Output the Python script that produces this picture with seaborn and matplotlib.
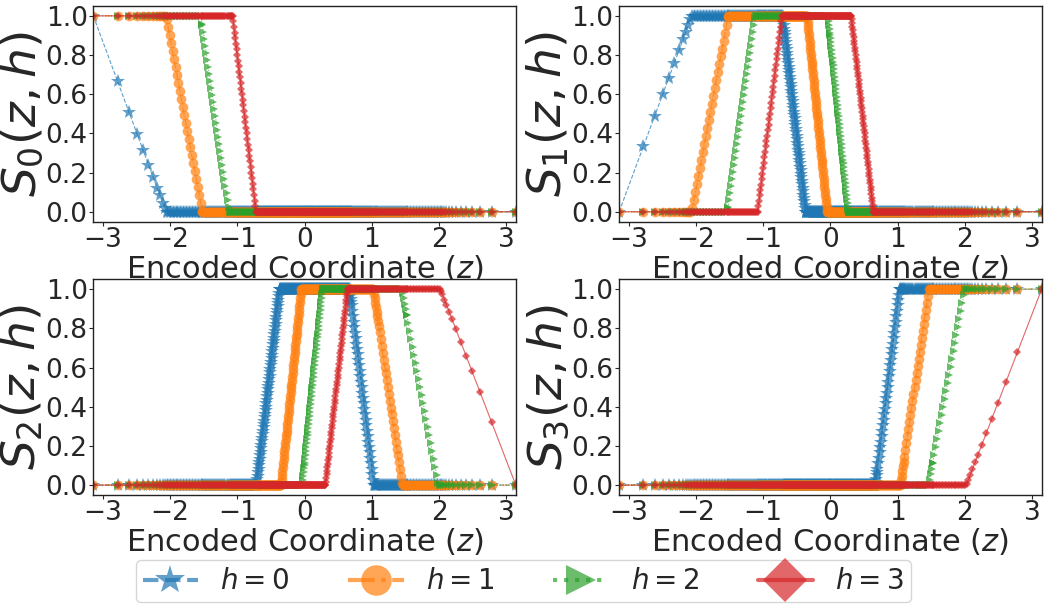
import numpy as np
import matplotlib
matplotlib.use("Agg")
import matplotlib.pyplot as plt
from matplotlib.lines import Line2D
import seaborn as sns

# sparse outer z samples (left side; right side is mirrored)
Z_TAIL = [-3.14, -2.78, -2.61, -2.49, -2.40, -2.32, -2.25, -2.19, -2.15, -2.11, -2.08]
# inner z samples get denser towards 0: segment edges and the spacing seen in each
Z_SEG_EDGES = [-2.05, -1.52, -1.10, -0.70, 0.0]
Z_SEG_STEP = [0.022, 0.015, 0.010, 0.006]

# breakpoints (z, S) of each curve, one list per h
S0_Z = [[-3.14, -2.06, 3.14], [-3.14, -2.06, -1.52, 3.14],
        [-3.14, -1.54, -1.12, 3.14], [-3.14, -1.07, -0.72, 3.14]]
S0_Y = [[1, 0, 0], [1, 1, 0, 0], [1, 1, 0, 0], [1, 1, 0, 0]]

S1_Z = [[-3.14, -2.06, -0.71, -0.37, 3.14], [-3.14, -2.06, -1.52, -0.35, -0.05, 3.14],
        [-3.14, -1.53, -1.11, -0.03, 0.27, 3.14], [-3.14, -1.08, -0.72, 0.31, 0.64, 3.14]]
S1_Y = [[0, 1, 1, 0, 0], [0, 0, 1, 1, 0, 0], [0, 0, 1, 1, 0, 0], [0, 0, 1, 1, 0, 0]]

S2_Z = [[-3.14, -0.71, -0.37, 0.67, 1.03, 3.14], [-3.14, -0.35, -0.05, 1.02, 1.45, 3.14],
        [-3.14, -0.03, 0.27, 1.45, 1.99, 3.14], [-3.14, 0.31, 0.64, 2.02, 3.14]]
S2_Y = [[0, 0, 1, 1, 0, 0], [0, 0, 1, 1, 0, 0], [0, 0, 1, 1, 0, 0], [0, 0, 1, 1, 0]]

S3_Z = [[-3.14, 0.67, 1.03, 3.14], [-3.14, 1.04, 1.46, 3.14],
        [-3.14, 1.46, 2.00, 3.14], [-3.14, 2.02, 3.14]]
S3_Y = [[0, 0, 1, 1], [0, 0, 1, 1], [0, 0, 1, 1], [0, 0, 1]]

H_LABELS = ['$h = 0$', '$h = 1$', '$h = 2$', '$h = 3$']
COLORS = ['#1f77b4', '#ff7f0e', '#2ca02c', '#d62728']
MARKERS = ['*', 'o', '>', 'D']
MSIZES = [10.5, 7, 6, 3.8]
LSTYLES = ['--', '-.', ':', '-']

sns.set_style("ticks")
plt.rcParams['font.family'] = ['DejaVu Sans']
plt.rcParams['mathtext.fontset'] = 'dejavusans'

inner = np.concatenate([np.arange(a, b - 1e-9, st) for a, b, st in
                        zip(Z_SEG_EDGES[:-1], Z_SEG_EDGES[1:], Z_SEG_STEP)])
half = np.concatenate([Z_TAIL, inner])
z = np.concatenate([half, [0.0], -half[::-1]])

fig, axes = plt.subplots(2, 2, figsize=(10.47, 6.05), dpi=100)
fig.subplots_adjust(left=0.089, right=0.995, top=0.99, bottom=0.182,
                    wspace=0.244, hspace=0.268)

all_z = [S0_Z, S1_Z, S2_Z, S3_Z]
all_y = [S0_Y, S1_Y, S2_Y, S3_Y]

for k, ax in enumerate(axes.flat):
    for h in range(4):
        s = np.interp(z, all_z[k][h], all_y[k][h])
        sns.lineplot(x=z, y=s, ax=ax, color=COLORS[h], marker=MARKERS[h],
                     markersize=MSIZES[h], markeredgewidth=0, linestyle=LSTYLES[h],
                     linewidth=0.8, alpha=0.7, estimator=None, sort=False,
                     errorbar=None)
    ax.set_xlim(-np.pi, np.pi)
    ax.set_ylim(-0.05, 1.05)
    ax.set_xticks([-3, -2, -1, 0, 1, 2, 3])
    ax.set_yticks([0.0, 0.2, 0.4, 0.6, 0.8, 1.0])
    ax.set_yticklabels(['0.0', '0.2', '0.4', '0.6', '0.8', '1.0'])
    ax.tick_params(labelsize=19, length=3, width=0.8, pad=1)
    ax.set_xlabel('Encoded Coordinate ($z$)', fontsize=22, labelpad=0)
    ax.set_ylabel('$S_%d(z, h)$' % k, fontsize=34, labelpad=0)
    for sp in ax.spines.values():
        sp.set_visible(True)
        sp.set_color('#222222')
        sp.set_linewidth(1.0)

handles = [Line2D([], [], color=COLORS[h], marker=MARKERS[h], markersize=22,
                  linestyle=LSTYLES[h], linewidth=3, alpha=0.7, markeredgewidth=0)
           for h in range(4)]
fig.legend(handles, H_LABELS, loc='lower center', bbox_to_anchor=(0.5, 0.0),
           ncol=4, fontsize=20, frameon=True, columnspacing=2.1,
           handlelength=2.0, borderpad=0.25, borderaxespad=0.1)

fig.savefig('out.png', dpi=100)
